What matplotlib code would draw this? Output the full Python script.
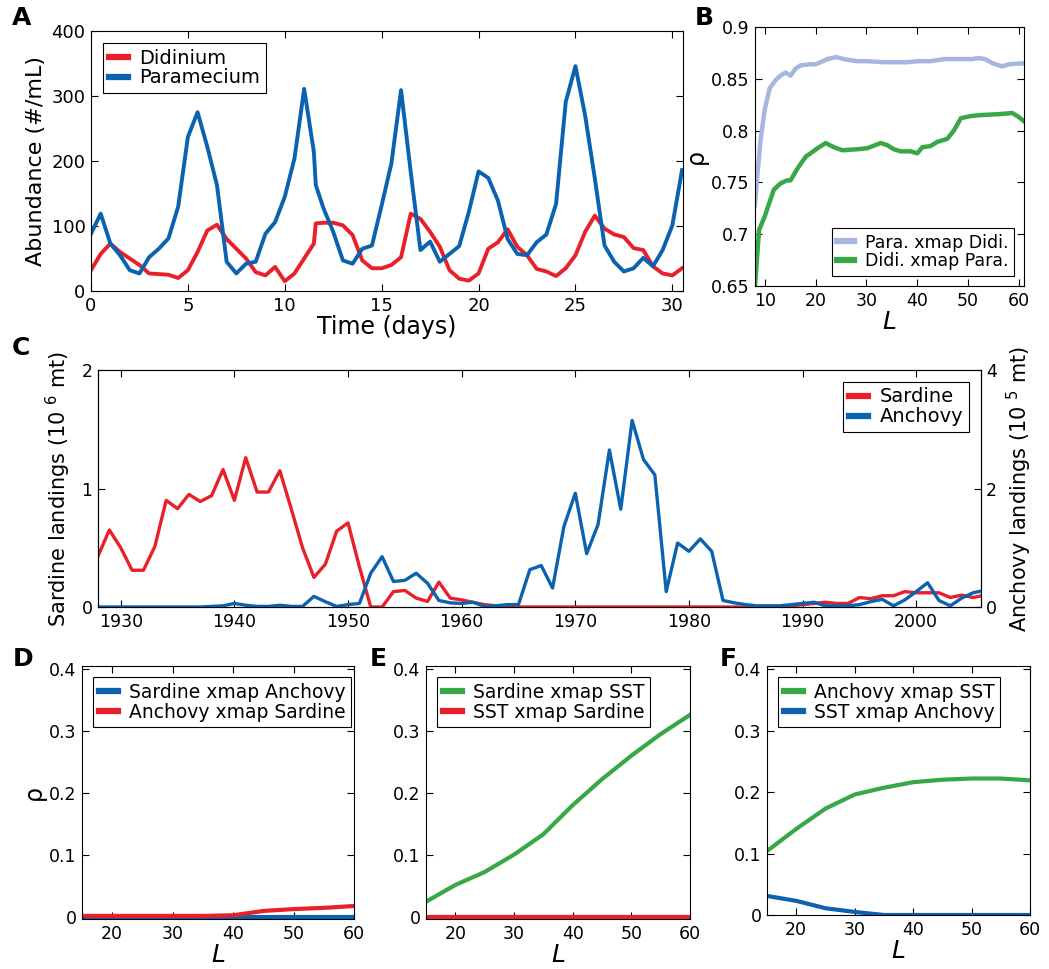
import matplotlib
matplotlib.use('Agg')
import matplotlib.pyplot as plt
import matplotlib.ticker as mticker

# ---- panel A: Didinium / Paramecium time series ----
days = [0, 0.5, 1, 1.5, 2, 2.5, 3, 3.5, 4, 4.5, 5, 5.5, 6, 6.5, 7, 7.5, 8, 8.5,
        9, 9.5, 10, 10.5, 11, 11.5, 11.6, 12, 12.5, 13, 13.5, 14, 14.5, 15, 15.5,
        16, 16.5, 17, 17.5, 18, 18.5, 19, 19.5, 20, 20.5, 21, 21.5, 22, 22.5,
        23, 23.5, 24, 24.5, 25, 25.5, 26, 26.5, 27, 27.5, 28, 28.5, 29, 29.5,
        30, 30.5]
paramecium = [88, 119, 73, 55, 32, 27, 52, 65, 81, 130, 237, 275, 222, 163, 45, 27,
              42, 45, 88, 106, 145, 204, 311, 214, 163, 127, 91, 47, 42, 65, 70, 132,
              196, 309, 183, 63, 76, 45, 57, 69, 122, 184, 174, 139, 80, 57, 55,
              75, 87, 134, 291, 346, 270, 173, 70, 45, 30, 35, 51, 38, 63, 101, 186]
didinium = [32, 57, 73, 60, 50, 40, 27, 26, 25, 20, 32, 60, 93, 102, 80, 65, 50, 29,
            24, 37, 15, 27, 50, 73, 104, 105, 105, 101, 86, 47, 35, 35, 40, 52, 119,
            111, 91, 68, 32, 19, 16, 27, 65, 75, 95, 68, 55, 34, 30, 23, 35, 55, 91,
            116, 96, 87, 83, 66, 63, 38, 27, 24, 35]

# ---- panel B: CCM skill vs library length ----
L_para = [8.1, 8.6, 9.2, 10, 11, 12.2, 13.1, 14.1, 15.1, 16.1, 17.1, 19, 20, 21,
          22.3, 24, 25.6, 28.2, 30.2, 33.5, 36.1, 38, 40, 42.6, 45.3, 47.2, 49.2,
          50.8, 52.1, 53.4, 54.8, 56.7, 58, 61]
rho_para = [0.728, 0.759, 0.791, 0.820, 0.841, 0.849, 0.853, 0.856, 0.853, 0.860,
            0.863, 0.864, 0.864, 0.866, 0.869, 0.871, 0.869, 0.867, 0.867, 0.866,
            0.866, 0.866, 0.867, 0.867, 0.869, 0.869, 0.869, 0.869, 0.870, 0.869,
            0.865, 0.862, 0.864, 0.865]
L_didi = [8.1, 8.9, 10, 11.8, 13.1, 14.4, 15.1, 16.4, 18.1, 19, 20.4, 22, 23.6,
          25.3, 28.2, 30.2, 32.8, 34.1, 35.4, 36.7, 38.7, 40, 41, 42.6, 43.9, 45.9,
          47.2, 48.6, 50.5, 52.5, 56.4, 58.7, 60, 61]
rho_didi = [0.650, 0.704, 0.717, 0.743, 0.749, 0.752, 0.752, 0.763, 0.775, 0.778,
            0.783, 0.788, 0.784, 0.781, 0.782, 0.783, 0.788, 0.786, 0.782, 0.780,
            0.780, 0.778, 0.784, 0.785, 0.789, 0.792, 0.800, 0.812, 0.814, 0.815,
            0.816, 0.817, 0.813, 0.809]

# ---- panel C: landings ----
years = list(range(1928, 2007))
sardine = [0.43, 0.65, 0.50, 0.31, 0.31, 0.51, 0.90, 0.83, 0.95, 0.89, 0.94, 1.16,
           0.90, 1.26, 0.97, 0.97, 1.15, 0.83, 0.50, 0.25, 0.36, 0.64, 0.71, 0.34,
           0.0, 0.0, 0.13, 0.14, 0.075, 0.047, 0.21, 0.075, 0.06, 0.04, 0.02, 0.01,
           0.005, 0, 0, 0, 0, 0, 0, 0, 0, 0, 0, 0, 0, 0, 0, 0, 0, 0, 0, 0, 0, 0,
           0.003, 0.005, 0.005, 0.01, 0.02, 0.03, 0.04, 0.03, 0.03, 0.08, 0.07, 0.095,
           0.095, 0.13, 0.12, 0.12, 0.12, 0.08, 0.10, 0.08, 0.10]
anchovy = [0, 0, 0, 0, 0, 0, 0, 0, 0, 0, 0.01, 0.02, 0.06, 0.03, 0.01, 0.01, 0.03,
           0.01, 0.01, 0.18, 0.09, 0.01, 0.04, 0.06, 0.57, 0.85, 0.43, 0.45, 0.57,
           0.40, 0.11, 0.07, 0.06, 0.08, 0.01, 0.02, 0.04, 0.04, 0.63, 0.70, 0.32,
           1.36, 1.92, 0.90, 1.39, 2.65, 1.65, 3.15, 2.49, 2.23, 0.26, 1.08, 0.94,
           1.15, 0.94, 0.11, 0.07, 0.04, 0.02, 0.02, 0.02, 0.04, 0.06, 0.08, 0.02,
           0.02, 0.02, 0.04, 0.09, 0.13, 0.02, 0.12, 0.26, 0.41, 0.11, 0.02, 0.15,
           0.24, 0.28]

# ---- panels D-F: CCM on fisheries data ----
L_fish = [15, 20, 25, 30, 35, 40, 45, 50, 55, 60]
d_sar_x_anc = [0, 0, 0, 0, 0, 0, 0, 0, 0, 0]
d_anc_x_sar = [0.001, 0.001, 0.001, 0.001, 0.001, 0.002, 0.009, 0.012, 0.014, 0.017]
e_sar_x_sst = [0.024, 0.051, 0.072, 0.100, 0.133, 0.180, 0.222, 0.260, 0.295, 0.326]
e_sst_x_sar = [0, 0, 0, 0, 0, 0, 0, 0, 0, 0]
f_anc_x_sst = [0.104, 0.140, 0.173, 0.196, 0.207, 0.216, 0.220, 0.222, 0.222, 0.219]
f_sst_x_anc = [0.031, 0.023, 0.011, 0.005, 0.0, 0.0, 0.0, 0.0, 0.0, 0.0]

RED = '#e8202a'
BLUE = '#0a62b0'
GREEN = '#38a846'
LBLUE = '#a6b6e0'

W, H = 1049, 969


def box(x0, y0, x1, y1):
    # pixel box (top-left origin) -> figure fraction rect
    return [x0 / W, (H - y1) / H, (x1 - x0) / W, (y1 - y0) / H]


def style(ax, size=13):
    ax.tick_params(direction='in', top=True, right=True, labelsize=size,
                   length=5, width=0.8, pad=4)
    for s in ax.spines.values():
        s.set_linewidth(0.8)


def legend(ax, loc, size):
    lg = ax.legend(loc=loc, fontsize=size, handlelength=1.0, handletextpad=0.6,
                   labelspacing=0.05, borderpad=0.3, fancybox=False,
                   framealpha=1, borderaxespad=0.6)
    lg.get_frame().set_edgecolor('black')
    lg.get_frame().set_linewidth(0.8)
    for h in lg.get_lines():
        h.set_linewidth(4.5)
    return lg


plt.rcParams['font.family'] = ['DejaVu Sans']
fig = plt.figure(figsize=(W / 100, H / 100), dpi=100)

# A
axA = fig.add_axes(box(91, 31, 683, 291))
axA.plot(days, didinium, color=RED, lw=2.8, label='Didinium')
axA.plot(days, paramecium, color=BLUE, lw=2.8, label='Paramecium')
axA.set_xlim(0, 30.55)
axA.set_ylim(0, 400)
axA.set_xticks([0, 5, 10, 15, 20, 25, 30])
axA.set_yticks([0, 100, 200, 300, 400])
axA.set_xlabel('Time (days)', fontsize=17, labelpad=0)
axA.set_ylabel('Abundance (#/mL)', fontsize=16, labelpad=4)
style(axA)
legend(axA, 'upper left', 14)

# B
axB = fig.add_axes(box(755, 27, 1024, 286))
axB.plot(L_para, rho_para, color=LBLUE, lw=3.2, label='Para. xmap Didi.')
axB.plot(L_didi, rho_didi, color=GREEN, lw=3.2, label='Didi. xmap Para.')
axB.set_xlim(8.1, 61)
axB.set_ylim(0.65, 0.9)
axB.set_xticks([10, 20, 30, 40, 50, 60])
axB.set_yticks([0.65, 0.7, 0.75, 0.8, 0.85, 0.9])
axB.yaxis.set_major_formatter(mticker.FuncFormatter(lambda v, p: ('%g' % round(v, 2))))
axB.set_xlabel('$L$', fontsize=18, labelpad=0)
axB.set_ylabel('ρ', fontsize=17, labelpad=2)
style(axB, 12.5)
legend(axB, 'lower right', 12.5)

# C
axC = fig.add_axes(box(98, 370, 981, 607))
axC.plot(years, sardine, color=RED, lw=2.4, label='Sardine')
axC.plot([], [], color=BLUE, lw=2.4, label='Anchovy')
axC.set_xlim(1928, 2005.7)
axC.set_ylim(0, 2)
axC.set_yticks([0, 1, 2])
axC.set_xticks([1930, 1940, 1950, 1960, 1970, 1980, 1990, 2000])
axC.set_ylabel('Sardine landings (10 $^{6}$ mt)', fontsize=15, labelpad=6)
style(axC, 12.5)
axC.tick_params(right=False)
axC2 = axC.twinx()
axC2.plot(years, anchovy, color=BLUE, lw=2.4)
axC2.set_ylim(0, 4)
axC2.set_yticks([0, 2, 4])
axC2.set_ylabel('Anchovy landings (10 $^{5}$ mt)', fontsize=15, labelpad=6)
axC2.tick_params(direction='in', labelsize=12.5, length=5, width=0.8)
legend(axC, 'upper right', 14)

# D, E, F
panels = [
    (box(82, 666, 354, 919), [(d_sar_x_anc, BLUE, 'Sardine xmap Anchovy'),
                              (d_anc_x_sar, RED, 'Anchovy xmap Sardine')], -0.004),
    (box(426, 666, 690, 919), [(e_sar_x_sst, GREEN, 'Sardine xmap SST'),
                               (e_sst_x_sar, RED, 'SST xmap Sardine')], -0.004),
    (box(767, 666, 1030, 915), [(f_anc_x_sst, GREEN, 'Anchovy xmap SST'),
                                (f_sst_x_anc, BLUE, 'SST xmap Anchovy')], 0.0),
]
axes_low = []
for rect, series, ybot in panels:
    ax = fig.add_axes(rect)
    for vals, col, lab in series:
        ax.plot(L_fish, vals, color=col, lw=3.0, label=lab)
    ax.set_xlim(15, 60)
    ax.set_ylim(ybot, 0.405)
    ax.set_xticks([20, 30, 40, 50, 60])
    ax.set_yticks([0, 0.1, 0.2, 0.3, 0.4])
    ax.yaxis.set_major_formatter(mticker.FuncFormatter(lambda v, p: '%g' % round(v, 2)))
    ax.set_xlabel('$L$', fontsize=18, labelpad=0)
    style(ax, 12.5)
    legend(ax, 'upper left', 13.5)
    axes_low.append(ax)
axes_low[0].set_ylabel('ρ', fontsize=17, labelpad=2)

# panel letters
for lab, x, y in [('A', 12, 6), ('B', 695, 6), ('C', 12, 336), ('D', 13, 647),
                  ('E', 370, 647), ('F', 720, 647)]:
    fig.text(x / W, 1 - y / H, lab, fontsize=18, fontweight='bold', va='top', ha='left')

fig.savefig('out.png', dpi=100)
